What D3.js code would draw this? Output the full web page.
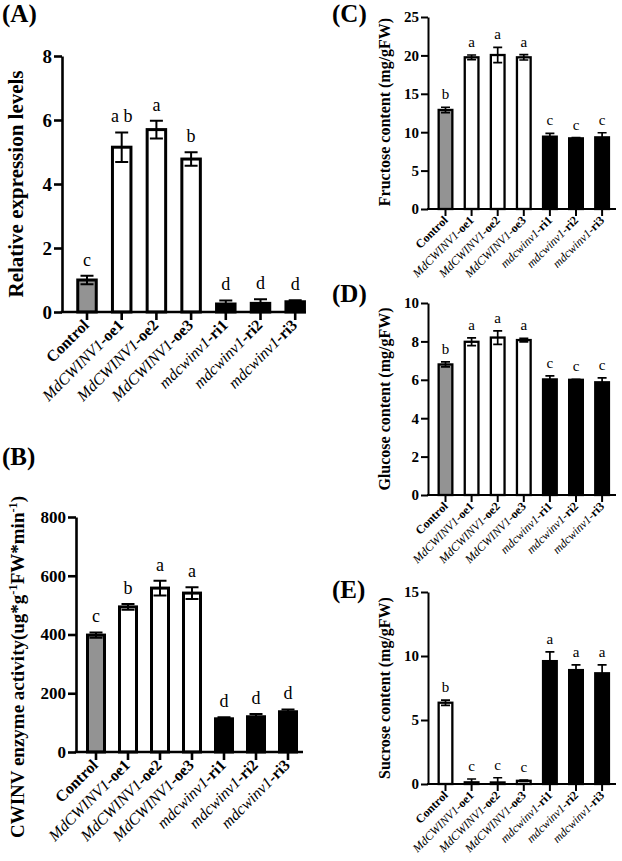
<!DOCTYPE html>
<html>
<head>
<meta charset="utf-8">
<script src="https://cdn.jsdelivr.net/npm/d3@7"></script>
<style>
  body { margin: 0; background: #fff; }
  svg text { font-family: "Liberation Serif", "Times New Roman", serif; }
</style>
</head>
<body>
<svg id="fig" width="622" height="861"></svg>
<script>
// ---- data ----
const categories = ["Control", "MdCWINV1-oe1", "MdCWINV1-oe2", "MdCWINV1-oe3",
                    "mdcwinv1-ri1", "mdcwinv1-ri2", "mdcwinv1-ri3"];

const expr = [1.0, 5.15, 5.7, 4.78, 0.25, 0.27, 0.32];
const exprErr = [0.13, 0.46, 0.28, 0.21, 0.11, 0.13, 0.05];
const exprSig = ["c", "a b", "a", "b", "d", "d", "d"];

const cwinv = [398, 494, 558, 541, 113, 120, 137];
const cwinvErr = [9, 10, 25, 20, 5, 9, 8];
const cwinvSig = ["c", "b", "a", "a", "d", "d", "d"];

const fructose = [12.9, 19.75, 20.05, 19.75, 9.42, 9.2, 9.33];
const fructoseErr = [0.35, 0.3, 1.0, 0.35, 0.43, 0.1, 0.6];
const fructoseSig = ["b", "a", "a", "a", "c", "c", "c"];

const glucose = [6.8, 7.98, 8.2, 8.07, 6.02, 6.0, 5.87];
const glucoseErr = [0.13, 0.2, 0.35, 0.09, 0.18, 0.02, 0.23];
const glucoseSig = ["b", "a", "a", "a", "c", "c", "c"];

const sucrose = [6.35, 0.13, 0.12, 0.25, 9.6, 8.9, 8.65];
const sucroseErr = [0.2, 0.26, 0.37, 0.05, 0.72, 0.4, 0.65];
const sucroseSig = ["b", "c", "c", "c", "a", "a", "a"];

const fillsGray = ["#939393", "#fff", "#fff", "#fff", "#000", "#000", "#000"];
const fillsWhite = ["#fff", "#fff", "#fff", "#fff", "#000", "#000", "#000"];

const svg = d3.select("#fig");

function drawPanel(p) {
    const g = svg.append("g");
    const n = categories.length;
    const x = d3.scaleBand()
        .domain(categories)
        .range([p.c0 - p.step / 2, p.c0 - p.step / 2 + n * p.step])
        .paddingInner(1 - p.bw / p.step)
        .paddingOuter((1 - p.bw / p.step) / 2);
    const y = d3.scaleLinear().domain([0, p.max]).range([p.y0, p.yTop]);

    const rows = categories.map((c, i) => ({
        cat: c, v: p.values[i], e: p.err[i], sig: p.sig[i], fill: p.fills[i]
    }));

    // bars
    g.selectAll("rect.bar").data(rows).enter().append("rect")
        .attr("class", "bar")
        .attr("x", d => x(d.cat) + p.sw / 2)
        .attr("width", x.bandwidth() - p.sw)
        .attr("y", d => y(d.v))
        .attr("height", d => Math.max(0, y(0) - y(d.v)))
        .attr("fill", d => d.fill)
        .attr("stroke", "#000")
        .attr("stroke-width", p.sw);

    // error bars
    const cx = d => x(d.cat) + x.bandwidth() / 2;
    g.selectAll("path.err").data(rows).enter().append("path")
        .attr("fill", "none")
        .attr("stroke", "#000")
        .attr("stroke-width", p.ew)
        .attr("d", d => {
            const t = y(d.v + d.e), b = y(Math.max(0, d.v - d.e)), c = cx(d), h = p.cap / 2;
            return `M${c},${t}V${b}M${c - h},${t}H${c + h}M${c - h},${b}H${c + h}`;
        });

    // significance letters
    g.selectAll("text.sig").data(rows).enter().append("text")
        .attr("x", cx)
        .attr("y", d => y(d.v + d.e) - p.sigGap)
        .attr("text-anchor", "middle")
        .attr("font-size", p.sigSize)
        .text(d => d.sig);

    // y axis
    const ya = g.append("g")
        .attr("transform", `translate(${p.ax},0)`)
        .call(d3.axisLeft(y).tickValues(d3.range(0, p.max + 0.001, p.tick)).tickSize(p.tl).tickSizeOuter(0).tickPadding(2));
    ya.selectAll("path, line").attr("stroke", "#000").attr("stroke-width", p.aw);
    ya.selectAll("text").attr("font-size", p.tickSize).attr("font-weight", "bold")
        .attr("font-family", "Liberation Serif, Times New Roman, serif").attr("fill", "#000");

    // x axis
    const xa = g.append("g")
        .attr("transform", `translate(0,${p.y0})`)
        .call(d3.axisBottom(x).tickSize(p.tl).tickSizeOuter(0).tickFormat(""));
    xa.select(".domain").attr("d", `M${p.ax - p.aw / 2},0H${p.xEnd}`);
    xa.selectAll("path, line").attr("stroke", "#000").attr("stroke-width", p.aw);

    // category labels, italic gene name + bold suffix
    const lab = g.selectAll("text.cat").data(rows).enter().append("text")
        .attr("text-anchor", "end")
        .attr("font-size", p.catSize)
        .attr("transform", d => `translate(${cx(d) + p.lx},${p.y0 + p.ly}) rotate(-45)`);
    lab.each(function(d) {
        const t = d3.select(this);
        const k = d.cat.indexOf("-");
        if (k < 0) {
            t.append("tspan").attr("font-weight", "bold").text(d.cat);
        } else {
            t.append("tspan").attr("font-style", "italic").text(d.cat.slice(0, k));
            t.append("tspan").attr("font-weight", "bold").text(d.cat.slice(k));
        }
    });

    // y title
    const yt = g.append("text")
        .attr("transform", `translate(${p.tx},${p.ty}) rotate(-90)`)
        .attr("text-anchor", "middle")
        .attr("font-weight", "bold")
        .attr("font-size", p.titleSize);
    if (p.titleParts) {
        p.titleParts.forEach(s => {
            const ts = yt.append("tspan").text(s[0]);
            if (s[1]) ts.attr("baseline-shift", "super").attr("font-size", p.titleSize * 0.65);
        });
    } else {
        yt.text(p.title);
    }

    // panel letter
    svg.append("text")
        .attr("x", p.px).attr("y", p.py)
        .attr("font-size", 25).attr("font-weight", "bold")
        .text(p.letter);
}

const big = { step: 0, sw: 3, ew: 2, aw: 2.6, tl: 8, cap: 13, sigGap: 10, sigSize: 18, tickSize: 19, catSize: 16, lx: 3, ly: 14 };
const small = { sw: 2.3, ew: 1.7, aw: 2, tl: 7, cap: 9, sigGap: 8, sigSize: 15, tickSize: 15, catSize: 12, lx: 3, ly: 12,
                c0: 445.5, step: 26.1, bw: 16, ax: 428, xEnd: 616, px: 332, tx: 390, titleSize: 16 };

drawPanel(Object.assign({}, big, {
    letter: "(A)", px: 2, py: 22,
    values: expr, err: exprErr, sig: exprSig, fills: fillsGray,
    max: 8, tick: 2, y0: 312, yTop: 56, ax: 62, xEnd: 306,
    c0: 87, step: 34.7, bw: 21.5,
    title: "Relative expression levels", tx: 23, ty: 184, titleSize: 21
}));

drawPanel(Object.assign({}, big, {
    letter: "(B)", px: 2, py: 465, tickSize: 17,
    values: cwinv, err: cwinvErr, sig: cwinvSig, fills: fillsGray,
    max: 800, tick: 200, y0: 752, yTop: 517, ax: 76, xEnd: 303,
    c0: 96, step: 32, bw: 20,
    titleParts: [["CWINV enzyme activity(ug*g"], ["-1", true], ["FW*min"], ["-1", true], [")"]],
    tx: 24, ty: 667, titleSize: 19
}));

drawPanel(Object.assign({}, small, {
    letter: "(C)", py: 22,
    values: fructose, err: fructoseErr, sig: fructoseSig, fills: fillsGray,
    max: 25, tick: 5, y0: 209, yTop: 17,
    title: "Fructose content (mg/gFW)", ty: 112
}));

drawPanel(Object.assign({}, small, {
    letter: "(D)", py: 302,
    values: glucose, err: glucoseErr, sig: glucoseSig, fills: fillsGray,
    max: 10, tick: 2, y0: 495, yTop: 303,
    title: "Glucose content (mg/gFW)", ty: 399
}));

drawPanel(Object.assign({}, small, {
    letter: "(E)", py: 598,
    values: sucrose, err: sucroseErr, sig: sucroseSig, fills: fillsWhite,
    max: 15, tick: 5, y0: 784, yTop: 592,
    title: "Sucrose content (mg/gFW)", ty: 688
}));
</script>
</body>
</html>
